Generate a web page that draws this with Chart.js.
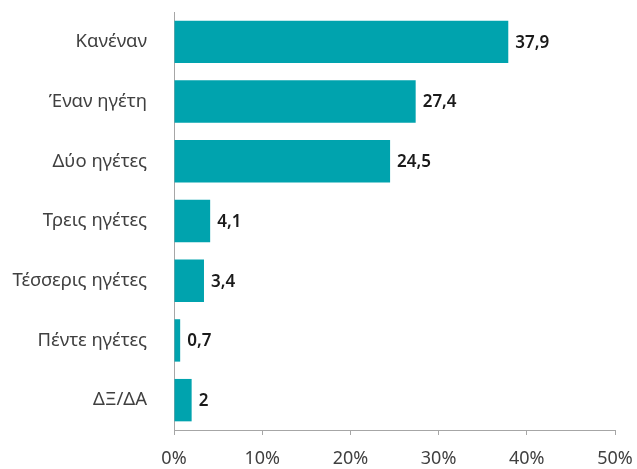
<!DOCTYPE html>
<html>
<head>
<meta charset="utf-8">
<script src="https://cdn.jsdelivr.net/npm/chart.js@4"></script>
<style>
  html, body { margin: 0; padding: 0; background: #fff; }
  #wrap { width: 637px; height: 469px; }
</style>
</head>
<body>
<div id="wrap"><canvas id="leadersChart"></canvas></div>
<script>
const categories = ['Κανέναν', 'Έναν ηγέτη', 'Δύο ηγέτες', 'Τρεις ηγέτες', 'Τέσσερις ηγέτες', 'Πέντε ηγέτες', 'ΔΞ/ΔΑ'];
const values = [37.9, 27.4, 24.5, 4.1, 3.4, 0.7, 2];
const xTicks = [0, 10, 20, 30, 40, 50];

const FONT = '"Noto Sans", sans-serif';
const BAR = '#00a3ae';
const AXIS = '#a6a6a6';

// writes the value (Greek decimal comma) right after each bar
const valueLabels = {
  id: 'valueLabels',
  afterDatasetsDraw(chart) {
    const { ctx } = chart;
    const meta = chart.getDatasetMeta(0);
    ctx.save();
    ctx.font = `600 17px ${FONT}`;
    ctx.fillStyle = '#1a1a1a';
    ctx.textAlign = 'left';
    ctx.textBaseline = 'middle';
    meta.data.forEach((bar, i) => {
      ctx.fillText(String(values[i]).replace('.', ','), bar.x + 7, bar.y + 1);
    });
    ctx.restore();
  },
};

new Chart(document.getElementById('leadersChart'), {
  type: 'bar',
  data: {
    labels: categories,
    datasets: [{
      data: values,
      backgroundColor: BAR,
      borderWidth: 0,
      categoryPercentage: 0.71,
      barPercentage: 1,
    }],
  },
  options: {
    indexAxis: 'y',
    responsive: true,
    maintainAspectRatio: false,
    animation: false,
    layout: { padding: { top: 12, right: 22, left: 0, bottom: 0 } },
    scales: {
      x: {
        min: 0,
        max: 50,
        afterBuildTicks: (axis) => { axis.ticks = xTicks.map(v => ({ value: v })); },
        afterFit: (axis) => {
          axis.height = 39;
          axis.paddingLeft = 0;
          axis.paddingRight = 0;
        },
        border: { display: true, color: AXIS, width: 1 },
        grid: { display: true, drawOnChartArea: false, drawTicks: true, tickLength: 5, color: AXIS },
        ticks: {
          padding: 13,
          color: '#404040',
          font: { family: FONT, size: 18 },
          callback: (v) => v + '%',
        },
      },
      y: {
        afterFit: (axis) => {
          axis.width = 174;
          // the big label gap should not push the plot down
          axis.paddingTop = 0;
          axis.paddingBottom = 0;
        },
        border: { display: true, color: AXIS, width: 1 },
        grid: { display: false, drawTicks: false },
        ticks: {
          padding: 27,
          color: '#404040',
          font: { family: FONT, size: 18.5 },
        },
      },
    },
    plugins: {
      legend: { display: false },
      tooltip: { enabled: false },
    },
  },
  plugins: [valueLabels],
});
</script>
</body>
</html>
